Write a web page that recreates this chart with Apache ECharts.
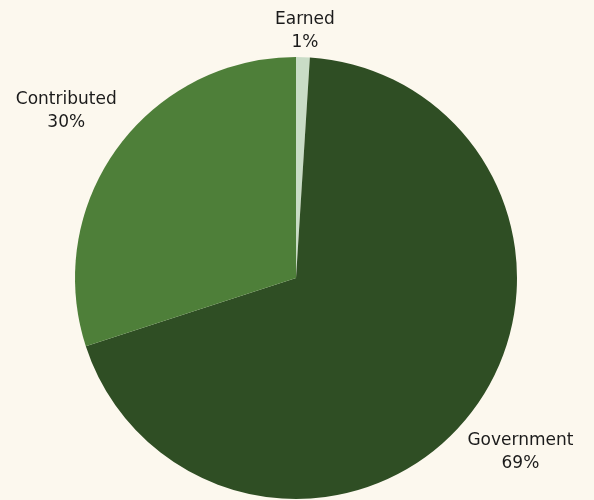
<!DOCTYPE html>
<html><head><meta charset="utf-8">
<script src="https://cdn.jsdelivr.net/npm/echarts@6/dist/echarts.min.js"></script>
<style>html,body{margin:0;padding:0;background:#fcf8ee;}#c{width:594px;height:500px;}</style>
</head><body><div id="c"></div>
<script>
const categories = ['Earned', 'Government', 'Contributed'];
const values = [1, 69, 30];
const colors = ['#c9dcc6', '#2f4e24', '#4e7f39'];

const chart = echarts.init(document.getElementById('c'));
chart.setOption({
  backgroundColor: '#fcf8ee',
  animation: false,
  series: [{
    type: 'pie',
    center: [296, 278],
    radius: 221,
    startAngle: 90,
    clockwise: true,
    avoidLabelOverlap: false,
    data: categories.map((c, i) => ({ name: c, value: values[i], itemStyle: { color: colors[i] } })),
    label: {
      show: true,
      position: 'outside',
      distanceToLabelLine: 0,
      formatter: '{a|{b}}\n{a|{d}%}',
      color: '#1b1b1b',
      fontFamily: 'DejaVu Sans',
      fontSize: 17,
      rich: { a: { align: 'center', fontFamily: 'DejaVu Sans', fontSize: 17, lineHeight: 23, color: '#1b1b1b' } }
    },
    labelLine: { show: false, length: 63, length2: 0 },
    labelLayout: function (p) {
      const r = p.labelRect;
      const out = { align: 'center', verticalAlign: 'middle' };
      if (r.y < 11) out.y = 11 + r.height / 2;
      return out;
    }
  }]
});
</script></body></html>
